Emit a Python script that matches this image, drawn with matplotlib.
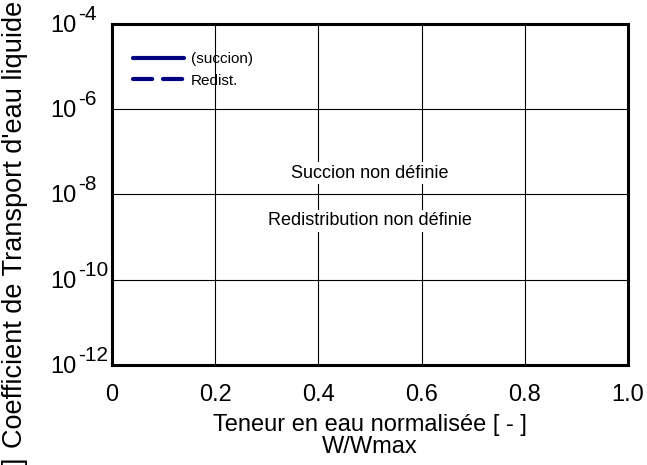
import matplotlib.pyplot as plt
from matplotlib import transforms
from matplotlib.ticker import NullLocator

plt.rcParams["font.family"] = ["Liberation Sans", "DejaVu Sans"]

# water content axis and log-scale decades
x_ticks = [0, 0.2, 0.4, 0.6, 0.8, 1.0]
x_tick_labels = ["0", "0.2", "0.4", "0.6", "0.8", "1.0"]
y_exponents = [-12, -10, -8, -6, -4]

# transport coefficient curves (none defined for this material)
w_succion = []
d_succion = []
w_redist = []
d_redist = []

navy = "#000080"

fig = plt.figure(figsize=(6.47, 4.65), dpi=100)
ax = fig.add_axes([0.1731, 0.2151, 0.7975, 0.7333])

ax.plot(w_succion, d_succion, color=navy, lw=3, solid_capstyle="round",
        label="(succion)")
ax.plot(w_redist, d_redist, color=navy, lw=3, ls=(0, (4.6, 2.6)),
        dash_capstyle="round", label="Redist.")

ax.set_yscale("log")
ax.set_xlim(0, 1.0)
ax.set_ylim(1e-12, 1e-4)
ax.yaxis.set_minor_locator(NullLocator())

ax.set_xticks(x_ticks)
ax.set_xticklabels(x_tick_labels, fontsize=17)
ax.set_yticks([10.0 ** e for e in y_exponents])
ax.set_yticklabels([""] * len(y_exponents))
ax.tick_params(length=0, pad=14)

ax.grid(True, color="black", lw=0.8)
for s in ax.spines.values():
    s.set_linewidth(2.2)

# y tick labels written as 10 with a large raised exponent
trans = transforms.blended_transform_factory(ax.transAxes, ax.transData)
base_tr = transforms.offset_copy(trans, fig=fig, x=-35, y=-8, units="dots")
exp_tr = transforms.offset_copy(trans, fig=fig, x=-34, y=4, units="dots")
for e in y_exponents:
    ax.text(0, 10.0 ** e, "10", transform=base_tr, ha="right", va="baseline",
            fontsize=17, clip_on=False)
    ax.text(0, 10.0 ** e, "-%d" % abs(e), transform=exp_tr, ha="left",
            va="baseline", fontsize=15, clip_on=False)

ax.set_xlabel("Teneur en eau normalisée [ - ]\nW/Wmax", fontsize=17,
              linespacing=1.0, labelpad=5.5)

fig.text(0.023, 0.0366, "Coefficient de Transport d'eau liquide [m²/s]",
         rotation=90, ha="center", va="bottom", fontsize=19.5)
fig.text(0.023, 0.0086, "]", rotation=90, ha="center", va="center",
         fontsize=19.5)

ax.text(0.5, 10 ** -7.5, "Succion non définie", ha="center", va="center",
        fontsize=13, bbox=dict(facecolor="white", edgecolor="none", pad=2))
ax.text(0.5, 10 ** -8.62, "Redistribution non définie", ha="center",
        va="center", fontsize=13,
        bbox=dict(facecolor="white", edgecolor="none", pad=2))

ax.legend(loc="upper left", bbox_to_anchor=(0.041, 0.918), frameon=False,
          fontsize=11, handlelength=3.3, handletextpad=0.46,
          labelspacing=0.5, borderpad=0, borderaxespad=0)

fig.savefig("out.png", dpi=100)
